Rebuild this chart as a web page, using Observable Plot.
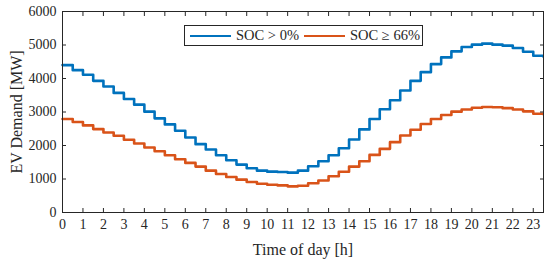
<!DOCTYPE html>
<html>
<head>
<meta charset="utf-8">
<script src="https://cdn.jsdelivr.net/npm/d3@7"></script>
<script src="https://cdn.jsdelivr.net/npm/@observablehq/plot@0.6"></script>
<style>
  html, body { margin: 0; padding: 0; background: #fff; }
  #wrap { position: relative; width: 544px; height: 264px; font-family: "Liberation Serif", "Times New Roman", serif; }
  #legend { position: absolute; left: 184px; top: 25px; width: 239px; height: 21px; box-sizing: border-box;
    border: 1px solid #262626; background: #fff; display: flex; align-items: center; font-size: 14.5px; color: #262626; white-space: nowrap; }
  .sw { display: inline-block; width: 41px; height: 0; border-top: 2.6px solid; margin: 0 5px 0 5px; }
</style>
</head>
<body>
<div id="wrap"><div id="legend"></div></div>
<script>
const times = d3.range(48).map(i => i / 2);
const socAny = [4400,4250,4110,3930,3760,3570,3390,3220,3010,2810,2630,2440,2240,2040,1880,1710,1560,1430,1320,1250,1220,1210,1190,1250,1380,1530,1710,1920,2180,2480,2790,3080,3350,3640,3930,4190,4430,4630,4810,4940,5010,5040,5010,4980,4910,4800,4680,4650];
const soc66 = [2790,2700,2600,2490,2390,2290,2170,2060,1940,1830,1710,1590,1480,1370,1250,1150,1060,980,910,860,830,810,780,800,875,955,1084,1215,1370,1530,1720,1900,2100,2300,2470,2640,2790,2910,3010,3075,3125,3150,3140,3115,3075,3020,2950,2930];
const seriesNames = ["SOC > 0%", "SOC \u2265 66%"];
const seriesColors = ["#0072BD", "#D95319"];
const xTicks = d3.range(0, 24);
const yTicks = d3.range(0, 7000, 1000);

const rows = [];
[socAny, soc66].forEach((arr, s) => arr.forEach((v, i) => rows.push({t: times[i], v, s: seriesNames[s]})));

const ink = "#262626";
const chart = Plot.plot({
  width: 544, height: 264,
  marginLeft: 62, marginRight: 1, marginTop: 11, marginBottom: 52,
  style: {fontFamily: "Liberation Serif, Times New Roman, serif", fontSize: "14px", color: ink, background: "transparent"},
  x: {domain: [0, 23.5]},
  y: {domain: [0, 6000]},
  color: {domain: seriesNames, range: seriesColors},
  marks: [
    Plot.line(rows, {x: "t", y: "v", z: "s", stroke: "s", curve: "step-after", strokeWidth: 2.6}),
    Plot.frame({stroke: ink}),
    Plot.axisX({ticks: xTicks, tickSize: 0, tickPadding: 7, tickFormat: d3.format("d"), label: null, fontSize: 14}),
    Plot.axisX({ticks: [], label: "Time of day [h]", labelAnchor: "center", labelArrow: "none", labelOffset: 42, fontSize: 16}),
    Plot.axisX({ticks: xTicks, tickSize: -4, tickFormat: () => "", label: null, stroke: ink}),
    Plot.axisX({anchor: "top", ticks: xTicks, tickSize: -4, tickFormat: () => "", label: null, stroke: ink}),
    Plot.axisY({ticks: yTicks, tickSize: 0, tickPadding: 6, tickFormat: d3.format("d"), label: null, fontSize: 14}),
    Plot.axisY({ticks: [], label: "EV Demand [MW]", labelAnchor: "center", labelArrow: "none", labelOffset: 52, fontSize: 16}),
    Plot.axisY({ticks: yTicks, tickSize: -4, tickFormat: () => "", label: null, stroke: ink}),
    Plot.axisY({anchor: "right", ticks: yTicks, tickSize: -4, tickFormat: () => "", label: null, stroke: ink})
  ]
});
chart.style.position = "absolute";
chart.style.left = "0";
chart.style.top = "0";
const wrap = document.getElementById("wrap");
wrap.insertBefore(chart, wrap.firstChild);

const leg = document.getElementById("legend");
seriesNames.forEach((n, i) => {
  const sw = document.createElement("span");
  sw.className = "sw";
  sw.style.borderTopColor = seriesColors[i];
  leg.appendChild(sw);
  const tx = document.createElement("span");
  tx.textContent = n;
  leg.appendChild(tx);
});
</script>
</body>
</html>
